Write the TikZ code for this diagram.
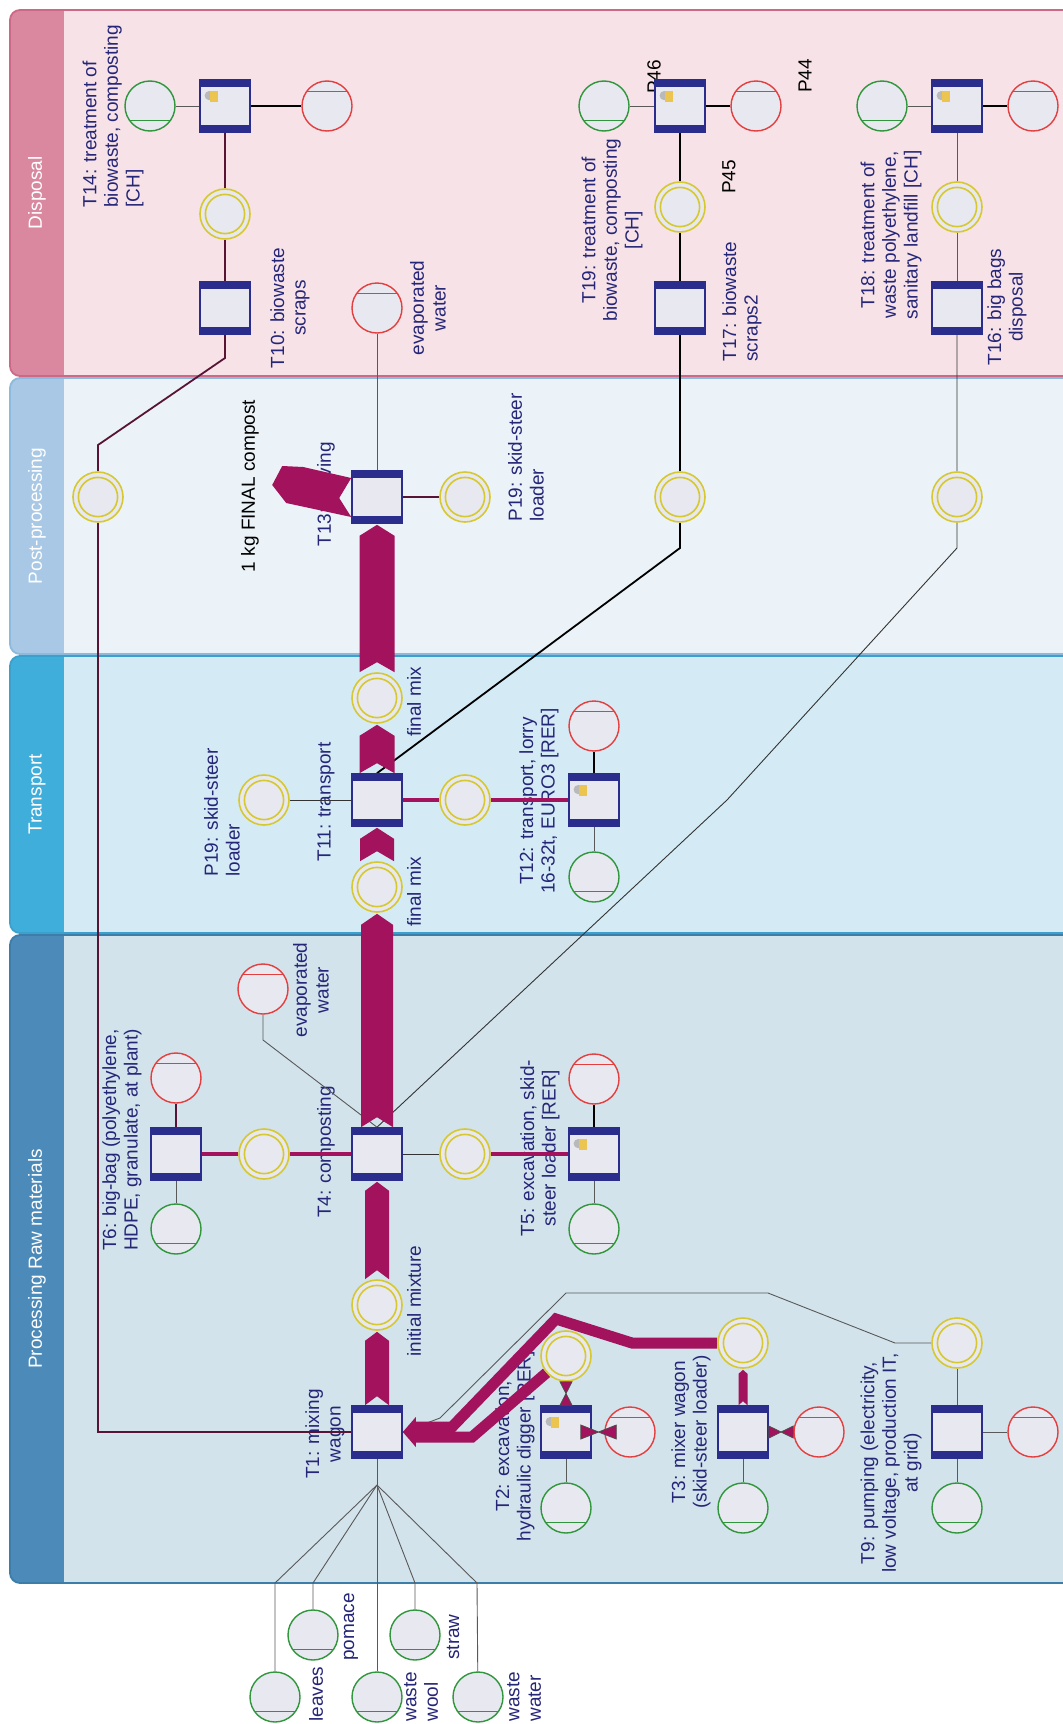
\documentclass[tikz,border=0pt]{standalone}
\usepackage{fontspec}
\setmainfont{Liberation Sans}
\usetikzlibrary{calc}

\definecolor{tblue}{RGB}{43,45,140}
\definecolor{pfill}{RGB}{232,232,240}
\definecolor{pgreen}{RGB}{48,150,60}
\definecolor{pred}{RGB}{228,62,62}
\definecolor{pyel}{RGB}{214,200,48}
\definecolor{flowc}{RGB}{163,18,92}
\definecolor{darkm}{RGB}{88,20,52}
\definecolor{txtblue}{RGB}{38,38,120}
\definecolor{lockyel}{RGB}{236,196,80}
\definecolor{dispS}{RGB}{218,136,160}
\definecolor{dispC}{RGB}{246,226,231}
\definecolor{dispB}{RGB}{205,105,135}
\definecolor{postS}{RGB}{168,200,230}
\definecolor{postC}{RGB}{235,243,248}
\definecolor{postB}{RGB}{140,185,220}
\definecolor{tranS}{RGB}{64,174,219}
\definecolor{tranC}{RGB}{212,235,245}
\definecolor{tranB}{RGB}{60,160,205}
\definecolor{procS}{RGB}{75,138,185}
\definecolor{procC}{RGB}{210,227,235}
\definecolor{procB}{RGB}{60,125,170}

\pgfdeclarelayer{lanes}
\pgfdeclarelayer{labels}
\pgfdeclarelayer{edges}
\pgfdeclarelayer{top}
\pgfsetlayers{lanes,labels,edges,main,top}

\newcommand{\lockicon}{%
  \fill[gray!55] ([shift={(4.6pt,-7.8pt)}]path picture bounding box.north west) circle (2.3pt);
  \fill[lockyel] ([shift={(4.8pt,-5.6pt)}]path picture bounding box.north west) rectangle ([shift={(9pt,-10.8pt)}]path picture bounding box.north west);}
\newcommand{\flowv}[5]{%
  \fill[flowc] ($(#1.north)+(-#3,0)$) -- ($(#1.north)+(0,-#4)$) -- ($(#1.north)+(#3,0)$) -- ($(#2.south)+(#3,#5)$) -- ($(#2.south)+(0,1)$) -- ($(#2.south)+(-#3,#5)$) -- cycle;}
\newcommand{\swimlane}[6]{%
  \begin{scope}
    \clip[rounded corners=5pt] (10,#1) rectangle (1075,#2);
    \fill[#4] (10,#1) rectangle (1075,#2);
    \fill[#3] (10,#1) rectangle (64,#2);
  \end{scope}
  \draw[#5, line width=0.9pt, rounded corners=5pt] (10,#1) rectangle (1075,#2);
  \node[lane] at (37,{(#1+#2)/2}) {#6};}

\begin{document}
\begin{tikzpicture}[x=0.5pt, y=-0.5pt,
    trans/.style={draw=tblue, line width=0.8pt, fill=pfill, minimum width=25pt, minimum height=26pt, inner sep=0pt,
      path picture={\fill[tblue] (path picture bounding box.north west) rectangle ([yshift=-3.6pt]path picture bounding box.north east);
        \fill[tblue] (path picture bounding box.south west) rectangle ([yshift=3.6pt]path picture bounding box.south east); #1}},
    trans/.default={},
    src/.style={circle, draw=pgreen, line width=0.7pt, fill=pfill, minimum size=25pt, inner sep=0pt,
      path picture={\draw[pgreen, line width=0.7pt] ([yshift=5.3pt]path picture bounding box.south west) -- ([yshift=5.3pt]path picture bounding box.south east);}},
    snk/.style={circle, draw=pred, line width=0.7pt, fill=pfill, minimum size=25pt, inner sep=0pt,
      path picture={\draw[pred, line width=0.7pt] ([yshift=-5.3pt]path picture bounding box.north west) -- ([yshift=-5.3pt]path picture bounding box.north east);}},
    inter/.style={circle, draw=pyel, line width=0.8pt, fill=pfill, minimum size=25pt, inner sep=0pt,
      path picture={\draw[pyel, line width=0.8pt] (path picture bounding box.center) circle (9.8pt);}},
    lbl/.style={rotate=90, align=center, inner sep=0pt, text=txtblue, font=\fontsize{9.5pt}{10.8pt}\selectfont},
    lbll/.style={lbl, align=left, anchor=west},
    blk/.style={lbl, text=black},
    lane/.style={rotate=90, text=white, inner sep=0pt, font=\fontsize{9.5pt}{11pt}\selectfont},
    lnk/.style={draw=black!65, line width=0.45pt},
    lnkd/.style={draw=darkm, line width=0.9pt},
    lnkb/.style={draw=black, line width=1.4pt},
    lnkf/.style={draw=flowc, line width=2.2pt},
    xflow/.style={fill=flowc, draw=black!70, line width=0.4pt}]

\path[use as bounding box] (0,0) rectangle (1062,1724);

\begin{pgfonlayer}{lanes}
\fill[white] (0,0) rectangle (1062,1724);
\swimlane{10}{376}{dispS}{dispC}{dispB}{Disposal}
\swimlane{378}{654}{postS}{postC}{postB}{Post-processing}
\swimlane{656}{933}{tranS}{tranC}{tranB}{Transport}
\swimlane{935}{1583}{procS}{procC}{procB}{Processing Raw materials}
\end{pgfonlayer}

% Disposal
\node[trans={\lockicon}] (T14) at (225,106) {};
\node[src] (T14in) at (150,106) {};
\node[snk] (T14out) at (327,106) {};
\node[inter] (P14) at (225,214) {};
\node[trans] (T10) at (225,308) {};
\node[snk] (W1) at (377,308) {};
\node[trans={\lockicon}] (T19) at (680,106) {};
\node[src] (T19in) at (604,106) {};
\node[snk] (T19out) at (756,106) {};
\node[inter] (P45) at (680,207) {};
\node[trans] (T17) at (680,308) {};
\node[trans={\lockicon}] (T18) at (957,106) {};
\node[src] (T18in) at (882,106) {};
\node[snk] (T18out) at (1033,106) {};
\node[inter] (P18) at (957,207) {};
\node[trans] (T16) at (957,308) {};

% Post-processing
\node[inter] (B1) at (98,497) {};
\node[trans] (T13) at (377,497) {};
\node[inter] (L13) at (465,497) {};
\node[inter] (B2) at (680,497) {};
\node[inter] (B3) at (957,497) {};

% Transport
\node[inter] (FM1) at (377,698) {};
\node[inter] (L11) at (264,800) {};
\node[trans] (T11) at (377,800) {};
\node[inter] (R11) at (465,800) {};
\node[trans={\lockicon}] (T12) at (594,800) {};
\node[snk] (T12out) at (594,726) {};
\node[src] (T12in) at (594,877) {};
\node[inter] (FM2) at (377,887) {};

% Processing raw materials
\node[snk] (W2) at (263,989) {};
\node[trans] (T6) at (176,1154) {};
\node[snk] (T6out) at (176,1078) {};
\node[src] (T6in) at (176,1229) {};
\node[inter] (P6) at (264,1154) {};
\node[trans] (T4) at (377,1154) {};
\node[inter] (P5) at (465,1154) {};
\node[trans={\lockicon}] (T5) at (594,1154) {};
\node[snk] (T5out) at (594,1079) {};
\node[src] (T5in) at (594,1229) {};
\node[inter] (IM) at (377,1305) {};
\node[trans] (T1) at (377,1432) {};
\node[trans={\lockicon}] (T2) at (566,1432) {};
\node[inter] (P2) at (566,1356) {};
\node[snk] (T2out) at (630,1432) {};
\node[src] (T2in) at (566,1508) {};
\node[trans] (T3) at (743,1432) {};
\node[inter] (P3) at (743,1343) {};
\node[snk] (T3out) at (819,1432) {};
\node[src] (T3in) at (743,1508) {};
\node[trans] (T9) at (957,1432) {};
\node[inter] (P9) at (957,1343) {};
\node[snk] (T9out) at (1033,1432) {};
\node[src] (T9in) at (957,1508) {};

\coordinate (hub) at (377,1485);
\node[src] (leaves) at (275,1697) {};
\node[src] (pomace) at (313,1635) {};
\node[src] (wool) at (377,1697) {};
\node[src] (straw) at (415,1635) {};
\node[src] (wwater) at (478,1697) {};

\begin{pgfonlayer}{labels}
\node[lbll] at (113,208) {T14: treatment of\\biowaste, composting\\{[CH]}};
\node[lbl] at (290,308) {T10: biowaste\\scraps};
\node[lbl] at (428,308) {evaporated\\water};
\node[blk] at (654,77) {P46};
\node[blk] at (805,76) {P44};
\node[blk] at (729,177) {P45};
\node[lbl] at (612,230) {T19: treatment of\\biowaste, composting\\{[CH]}};
\node[lbll] at (742,362) {T17: biowaste\\scraps2};
\node[lbl] at (891,235) {T18: treatment of\\waste polyethylene,\\sanitary landfill [CH]};
\node[lbl] at (1007,307) {T16: big bags\\disposal};
\node[blk] at (250,486) {1 kg FINAL compost};
\node[lbll] at (326,547) {T13: sieving};
\node[lbll] at (526,522) {P19: skid-steer\\loader};
\node[lbll] at (222,877) {P19: skid-steer\\loader};
\node[lbl] at (326,802) {T11: transport};
\node[lbl] at (414,702) {final mix};
\node[lbl] at (414,892) {final mix};
\node[lbl] at (539,801) {T12: transport, lorry\\16-32t, EURO3 [RER]};
\node[lbl] at (311,990) {evaporated\\water};
\node[lbl] at (122,1140) {T6: big-bag (polyethylene,\\HDPE, granulate, at plant)};
\node[lbl] at (326,1152) {T4: composting};
\node[lbl] at (540,1148) {T5: excavation, skid-\\steer loader [RER]};
\node[lbl] at (414,1301) {initial mixture};
\node[lbl] at (325,1434) {T1: mixing\\wagon};
\node[lbl] at (515,1446) {T2: excavation,\\hydraulic digger [RER]};
\node[lbl] at (691,1432) {T3: mixer wagon\\(skid-steer loader)};
\node[lbl] at (891,1463) {T9: pumping (electricity,\\low voltage, production IT,\\at grid)};
\node[lbl] at (351,1627) {pomace};
\node[lbl] at (453,1637) {straw};
\node[lbll] at (316,1722) {leaves};
\node[lbll] at (421,1722) {waste\\wool};
\node[lbll] at (524,1722) {waste\\water};
\end{pgfonlayer}

\begin{pgfonlayer}{edges}
\draw[lnk] (T14in) -- (T14);
\draw[lnkb] (T14) -- (T14out);
\draw[lnkd] (T14) -- (P14) -- (T10);
\draw[lnkd] (T10) -- (225,358) -- (98,445) -- (B1) -- (98,1432) -- (T1);
\draw[lnk] (W1) -- (T13);
\draw[lnk] (T19in) -- (T19);
\draw[lnkb] (T19) -- (T19out);
\draw[lnkd, draw=black] (T19) -- (P45) -- (T17) -- (B2) -- (680,548) -- (T11.north);
\draw[lnk] (T18in) -- (T18);
\draw[lnkd, draw=black] (T18) -- (T18out);
\draw[lnk] (T18) -- (P18) -- (T16);
\draw[lnk, draw=black!80] (T16) -- (B3) -- (957,548) -- (727,800) -- (T4.north);
\draw[lnkd] (T13) -- (L13);
\draw[lnk, draw=black!80] (L11) -- (T11);
\draw[lnkf] (T11) -- (R11) -- (T12);
\draw[lnkb] (T12) -- (T12out);
\draw[lnk] (T12) -- (T12in);
\draw[lnkb, draw=darkm] (T6) -- (T6out);
\draw[lnk] (T6) -- (T6in);
\draw[lnkf] (T6) -- (P6) -- (T4);
\draw[lnk, draw=black!80] (T4) -- (P5);
\draw[lnkf] (P5) -- (T5);
\draw[lnkb] (T5) -- (T5out);
\draw[lnk] (T5) -- (T5in);
\draw[lnk] (W2) -- (263,1040) -- (T4.north);
\draw[lnk] (T2) -- (T2in);
\draw[lnk] (T3) -- (T3in);
\draw[lnk] (T9) -- (T9in);
\draw[lnk] (T9) -- (T9out);
\draw[lnk] (T9) -- (P9);
\draw[lnk] (T1.east) -- (440,1418) -- (566,1293) -- (768,1293) -- (895,1343) -- (P9);
\draw[lnk] (T1) -- (hub);
\draw[lnk] (hub) -- (275,1583) -- (leaves);
\draw[lnk] (hub) -- (313,1583) -- (pomace);
\draw[lnk] (hub) -- (wool);
\draw[lnk] (hub) -- (415,1583) -- (straw);
\draw[lnk] (hub) -- (477,1583) -- (wwater);
\flowv{FM1}{T13}{17.5}{10}{12}
\flowv{T11}{FM1}{17.5}{10}{12}
\flowv{FM2}{T11}{17}{10}{12}
\flowv{T4}{FM2}{16}{10}{12}
\flowv{IM}{T4}{12}{9}{10}
\flowv{T1}{IM}{12}{9}{10}
\flowv{T3}{P3}{4.5}{4}{5}
\fill[flowc] ($(T13.west)+(0,-19)$) -- ($(T13.west)+(-48,-30)$) -- ($(T13.west)+(-69,-31)$) -- ($(T13.west)+(-79,-12)$) -- ($(T13.west)+(-65,6)$) -- ($(T13.west)+(0,20)$) -- ($(T13.west)+(-12,1)$) -- cycle;
\draw[flowc, line width=5.5pt, line join=miter] (P3.west) -- (632,1343) -- (556,1319) -- (452,1427) -- (414,1427);
\draw[flowc, line width=5.5pt, line join=miter] (P2) -- (472,1437) -- (414,1437);
\fill[flowc] (T1.east) -- ++(13,-15) -- ++(0,30) -- cycle;
\end{pgfonlayer}

\begin{pgfonlayer}{top}
\filldraw[xflow] ($(P2.south)+(-6,0)$) -- ($(P2.south)+(6,0)$) -- ($(T2.north)+(-6,0)$) -- ($(T2.north)+(6,0)$) -- cycle;
\filldraw[xflow] ($(T2.east)+(-11,-7)$) -- ($(T2.east)+(-11,7)$) -- ($(T2out.west)+(12,-7)$) -- ($(T2out.west)+(12,7)$) -- cycle;
\filldraw[xflow] ($(T3.east)+(0,-6)$) -- ($(T3.east)+(0,6)$) -- ($(T3out.west)+(0,-6)$) -- ($(T3out.west)+(0,6)$) -- cycle;
\end{pgfonlayer}
\end{tikzpicture}
\end{document}
